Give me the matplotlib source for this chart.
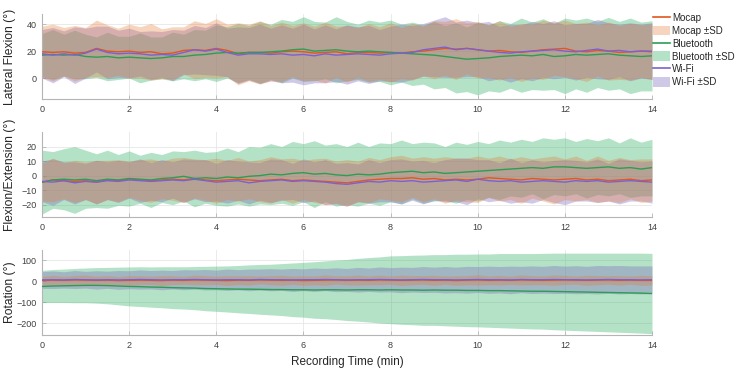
import numpy as np
import matplotlib
matplotlib.use("Agg")
import matplotlib.pyplot as plt
from matplotlib.lines import Line2D
from matplotlib.patches import Patch

plt.rcParams['font.family'] = ['Liberation Sans', 'DejaVu Sans']

# ---------------- data (t = 0 .. 14 min, step 0.25) ----------------
t_min = np.linspace(0, 14, 57)

lf_mocap = [19.5, 19.0, 19.5, 18.5, 19.0, 22.0, 20.0, 19.5, 20.0, 19.0,
            19.5, 18.0, 18.5, 20.5, 21.0, 20.5, 22.0, 20.5, 18.0, 19.0,
            19.0, 18.5, 19.5, 20.0, 19.5, 18.5, 19.0, 19.5, 18.0, 19.0,
            19.0, 18.5, 19.0, 18.5, 19.5, 20.0, 21.0, 22.0, 21.5, 22.0,
            21.0, 20.0, 20.5, 19.5, 19.0, 20.0, 21.0, 21.5, 22.0, 20.0,
            19.5, 20.5, 20.0, 19.0, 19.5, 20.0, 19.5]
lf_bt = [17.0, 17.5, 17.0, 17.5, 16.0, 15.5, 16.0, 15.0, 15.5, 15.0,
         14.5, 15.0, 16.0, 16.0, 17.0, 17.5, 18.5, 19.0, 18.5, 19.0,
         19.0, 19.5, 20.0, 21.0, 21.5, 20.0, 20.5, 21.0, 20.0, 19.5,
         20.0, 19.5, 19.0, 18.5, 18.0, 17.5, 17.0, 16.0, 15.0, 14.0,
         14.5, 15.0, 16.0, 16.5, 17.0, 16.5, 17.5, 16.0, 16.5, 17.5,
         17.0, 17.5, 18.0, 17.0, 16.5, 16.0, 16.5]
lf_wifi = [18.0, 17.0, 18.0, 17.0, 18.5, 21.5, 19.0, 18.0, 18.5, 18.0,
           17.0, 17.5, 17.0, 19.0, 21.0, 20.0, 21.5, 19.0, 17.0, 18.0,
           18.0, 17.5, 18.0, 17.0, 17.5, 16.5, 18.0, 17.0, 17.5, 18.0,
           17.5, 17.0, 18.0, 18.5, 19.0, 21.0, 22.0, 23.0, 21.0, 22.0,
           21.0, 20.0, 19.0, 18.5, 19.5, 20.0, 20.5, 21.0, 20.0, 19.5,
           20.5, 21.5, 20.0, 20.5, 19.5, 20.0, 20.0]
lf_mocap_sd = [19, 21, 18, 20.5, 18.5, 21, 19.5, 17.5, 20, 19,
               21, 18.5, 19.5, 17.5, 21.5, 20, 22, 19.5, 23, 21,
               23.5, 20.5, 22, 19, 21.5, 20, 22.5, 19, 21, 18.5,
               21.5, 19.5, 22, 19, 21, 18.5, 21.5, 20, 22.5, 19,
               21, 19.5, 22, 19, 21.5, 20, 22, 19.5, 21, 20.5,
               22, 19, 21.5, 20, 21, 19.5, 20.5]
lf_bt_sd = [16, 18.5, 15.5, 18, 16.5, 15, 18, 16, 15.5, 18.5,
            16, 15.5, 18, 16.5, 19, 18, 21, 19, 22, 20,
            23, 20.5, 23.5, 21, 24, 22, 21, 24.5, 22, 20.5,
            23, 22, 24, 21.5, 23.5, 22, 25, 23, 26, 24,
            27, 24.5, 26.5, 24, 27.5, 25, 26.5, 24.5, 28, 25.5,
            27.5, 24.5, 27, 25, 28, 25.5, 26]
lf_wifi_sd = [18, 20.5, 17, 21, 18.5, 17, 19.5, 17.5, 18.5, 16.5,
              18, 17, 19, 16.5, 18, 17.5, 19.5, 18, 21, 19.5,
              22, 19.5, 21.5, 20, 22.5, 20, 21.5, 19.5, 22, 20,
              21.5, 19, 20.5, 21.5, 20, 19.5, 21, 22.5, 20.5, 21,
              20, 22, 19.5, 21.5, 20, 22, 20, 21.5, 19.5, 21,
              20, 22, 21, 19.5, 21.5, 20, 21]

fe_mocap = [-4.5, -3.0, -3.5, -4.0, -3.5, -4.5, -3.0, -3.5, -2.5, -3.0,
            -3.5, -3.0, -2.5, -3.0, -2.0, -3.0, -3.5, -3.0, -2.5, -3.0,
            -3.5, -3.0, -2.5, -3.5, -3.0, -3.5, -4.0, -4.5, -5.0, -4.0,
            -3.0, -2.5, -2.0, -2.0, -1.5, -2.5, -2.0, -3.0, -2.5, -3.0,
            -2.5, -1.5, -2.0, -2.5, -3.0, -2.0, -2.5, -3.0, -2.5, -2.0,
            -3.0, -2.5, -3.5, -3.0, -2.5, -3.5, -3.0]
fe_bt = [-4.5, -3.0, -2.5, -3.0, -2.5, -3.5, -2.5, -3.0, -2.0, -2.5,
         -3.0, -2.0, -1.5, -0.5, -2.0, -1.5, -2.0, -1.0, -1.5, -0.5,
         0.0, 1.0, 0.5, 1.5, 2.0, 1.0, 1.5, 0.5, 0.0, 1.0,
         0.5, 1.0, 2.0, 2.5, 3.0, 2.0, 2.5, 1.5, 2.0, 2.5,
         3.0, 3.5, 4.0, 4.5, 5.0, 5.5, 5.0, 6.0, 6.0, 5.5,
         5.0, 5.5, 6.0, 5.0, 5.5, 4.5, 5.5]
fe_wifi = [-4.0, -4.5, -3.5, -5.0, -4.0, -4.5, -3.5, -4.0, -3.0, -3.5,
           -4.0, -3.5, -3.0, -3.5, -2.5, -3.5, -4.5, -4.0, -3.5, -5.0,
           -4.0, -3.5, -3.0, -4.0, -3.5, -4.0, -4.5, -5.5, -6.0, -5.0,
           -4.0, -4.5, -3.5, -4.0, -3.5, -4.5, -4.0, -3.5, -3.0, -4.0,
           -2.5, -3.5, -4.0, -3.5, -4.5, -4.0, -3.5, -4.0, -4.5, -3.5,
           -4.0, -3.5, -4.5, -4.0, -3.5, -4.0, -4.5]
fe_mocap_sd = [13, 15, 12.5, 14.5, 13, 15, 13.5, 14.5, 12.5, 14,
               15, 13, 14.5, 15.5, 13.5, 14, 15.5, 13.5, 15, 13,
               14.5, 16, 14, 15.5, 13.5, 15, 16, 14.5, 16, 14,
               15.5, 13.5, 15, 16, 13.5, 15.5, 14, 16, 14.5, 15,
               16, 13.5, 15.5, 14, 16, 13.5, 15, 16.5, 14, 15.5,
               13.5, 16, 14, 15.5, 13.5, 15, 14.5]
fe_bt_sd = [22, 19.5, 21, 23, 20, 18.5, 20, 17.5, 19, 16.5,
            19, 16.5, 18.5, 17, 19.5, 17.5, 18.5, 20, 18, 20.5,
            19.5, 21, 19.5, 22, 20, 23, 19.5, 21.5, 20, 22,
            19.5, 21.5, 20, 22, 19, 21, 20, 18.5, 21, 19,
            20.5, 18.5, 20.5, 18.5, 20, 18, 21, 19, 20, 18,
            20.5, 18.5, 20, 17.5, 20.5, 18.5, 19.5]
fe_wifi_sd = [14, 16, 13, 14.5, 12.5, 15, 13, 14.5, 12.5, 15,
              13, 14.5, 12.5, 15, 13.5, 14.5, 13, 15, 13.5, 14.5,
              13, 15, 14, 12.5, 15, 13.5, 15.5, 14, 15, 13,
              15, 13.5, 14.5, 15.5, 13.5, 15, 13, 14.5, 15, 16,
              13.5, 14.5, 13, 15.5, 13.5, 15, 13, 14.5, 15.5, 14,
              13.5, 15, 13, 15.5, 14, 13.5, 14.5]

rot_mocap = [4, 6, 5, 7, 6, 5, 6, 4, 5, 6,
             5, 4, 6, 5, 7, 6, 5, 4, 6, 5,
             7, 6, 5, 6, 4, 5, 6, 7, 5, 6,
             5, 7, 6, 5, 6, 7, 5, 6, 4, 6,
             7, 5, 6, 5, 7, 6, 5, 6, 7, 6,
             5, 6, 7, 5, 6, 5, 5]
rot_bt = [-24, -22, -21, -20, -19, -19, -20, -22, -24, -25,
          -27, -28, -30, -31, -32, -34, -35, -36, -37, -37,
          -38, -39, -39, -40, -40, -41, -40, -40, -41, -40,
          -40, -41, -40, -41, -41, -42, -41, -42, -42, -43,
          -43, -44, -44, -45, -46, -47, -47, -48, -49, -50,
          -51, -52, -53, -54, -55, -56, -58]
rot_wifi = [7, 8, 7, 9, 8, 7, 8, 7, 8, 9,
            8, 7, 8, 8, 9, 8, 7, 8, 8, 7,
            9, 8, 8, 7, 8, 8, 9, 8, 7, 8,
            8, 9, 8, 7, 8, 9, 8, 8, 7, 8,
            9, 8, 8, 7, 9, 8, 8, 9, 8, 8,
            7, 8, 9, 8, 8, 7, 8]
rot_mocap_sd = [20, 23, 19, 22, 24, 20, 22, 19, 23, 21,
                20, 24, 21, 19, 23, 22, 20, 24, 21, 23,
                19, 22, 24, 20, 23, 21, 25, 20, 22, 24,
                21, 23, 20, 25, 22, 21, 24, 20, 23, 22,
                25, 21, 23, 20, 24, 22, 21, 25, 22, 20,
                24, 22, 21, 23, 20, 24, 22]
rot_bt_sd = [77, 79, 80, 82, 83, 85, 87, 90, 93, 95,
             96, 98, 100, 101, 103, 106, 108, 110, 113, 116,
             119, 121, 124, 128, 131, 135, 138, 142, 146, 150,
             154, 158, 162, 164, 166, 168, 169, 170, 172, 173,
             174, 175, 177, 178, 179, 180, 181, 183, 184, 185,
             186, 187, 188, 189, 190, 191, 192]
rot_wifi_sd = [40, 42, 39, 43, 40, 44, 41, 45, 43, 46,
               44, 47, 44, 48, 46, 49, 47, 51, 48, 52,
               50, 53, 51, 55, 52, 56, 53, 57, 55, 59,
               56, 60, 58, 61, 59, 62, 60, 63, 61, 64,
               62, 65, 63, 66, 63, 66, 64, 67, 65, 67,
               65, 68, 66, 68, 66, 67, 66]

ylabels = ["Lateral Flexion (°)", "Flexion/Extension (°)", "Rotation (°)"]
x_ticks = [0, 2, 4, 6, 8, 10, 12, 14]
legend_labels = ["Mocap", "Mocap ±SD", "Bluetooth", "Bluetooth ±SD", "Wi-Fi", "Wi-Fi ±SD"]

panels = [
    (lf_mocap, lf_mocap_sd, lf_bt, lf_bt_sd, lf_wifi, lf_wifi_sd, (-15.5, 47.5), [0, 20, 40]),
    (fe_mocap, fe_mocap_sd, fe_bt, fe_bt_sd, fe_wifi, fe_wifi_sd, (-28.5, 30), [-20, -10, 0, 10, 20]),
    (rot_mocap, rot_mocap_sd, rot_bt, rot_bt_sd, rot_wifi, rot_wifi_sd, (-256, 150), [-200, -100, 0, 100]),
]

# index 0 = Mocap, 1 = Bluetooth, 2 = Wi-Fi
line_cols = ["#E2561F", "#2B9E52", "#7C60D2"]
fill_cols = ["#E47A36", "#3CB46E", "#8270BE"]
fill_alpha = [0.32, 0.38, 0.38]
fill_order = [1, 2, 0]

fig = plt.figure(figsize=(7.39, 3.73), dpi=100)
W, H = 739, 373
left, right = 42 / W, 652 / W
tops = [14, 132, 250]
bots = [99, 217, 335]

axes = []
for i, (m, msd, b, bsd, w, wsd, ylim, yt) in enumerate(panels):
    ax = fig.add_axes([left, 1 - bots[i] / H, right - left, (bots[i] - tops[i]) / H])
    axes.append(ax)
    means = [np.array(m, float), np.array(b, float), np.array(w, float)]
    sds = [np.array(msd, float), np.array(bsd, float), np.array(wsd, float)]
    for k in fill_order:
        ax.fill_between(t_min, means[k] - sds[k], means[k] + sds[k],
                        color=fill_cols[k], alpha=fill_alpha[k], lw=0, zorder=2)
    for k in range(3):
        ax.plot(t_min, means[k], color=line_cols[k], lw=1.0, zorder=3)
    ax.set_xlim(0, 14)
    ax.set_ylim(*ylim)
    ax.set_xticks(x_ticks)
    ax.set_yticks(yt)
    ax.grid(True, color="#e6e6e6", lw=0.6, zorder=0)
    ax.set_axisbelow(True)
    for s in ["top", "right"]:
        ax.spines[s].set_visible(False)
    for s in ["left", "bottom"]:
        ax.spines[s].set_color("#b5b5b5")
        ax.spines[s].set_linewidth(0.8)
    ax.tick_params(direction="in", length=3, width=0.6, color="#b5b5b5",
                   labelsize=6.5, labelcolor="#404040", pad=4)
    ax.set_ylabel(ylabels[i], fontsize=8.7, color="#262626")
    ax.yaxis.set_label_coords(-0.043, 0.5)

axes[2].set_xlabel("Recording Time (min)", fontsize=8.5, color="#262626", labelpad=5)

handles = []
for k in range(3):
    handles.append(Line2D([0], [0], color=line_cols[k], lw=1.2))
    handles.append(Patch(facecolor=fill_cols[k], alpha=fill_alpha[k], edgecolor="none"))
fig.legend(handles, legend_labels, loc="upper left", bbox_to_anchor=(651 / W, 1 - 11 / H),
           frameon=False, fontsize=7, handlelength=1.75, handleheight=1.15,
           handletextpad=0.25, labelspacing=0.28, borderpad=0.2, borderaxespad=0,
           labelcolor="#262626")

fig.savefig("out.png", dpi=100)
